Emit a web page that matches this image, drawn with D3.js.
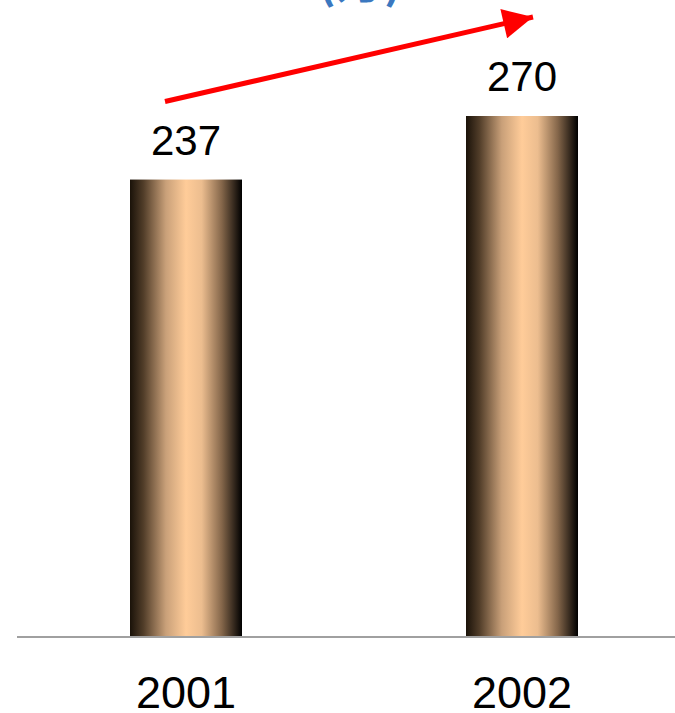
<!DOCTYPE html>
<html>
<head>
<meta charset="utf-8">
<script src="https://cdn.jsdelivr.net/npm/d3@7"></script>
<style>
  html, body { margin: 0; padding: 0; background: #fff; overflow: hidden; }
  svg { display: block; }
</style>
</head>
<body>
<svg id="chart" width="675" height="713"></svg>
<script>
const categories = ["2001", "2002"];
const values = [237, 270];
const titleText = "(万)";

const svg = d3.select("#chart");
const W = 675, H = 713;

const x = d3.scaleBand().domain(categories).range([18, 690])
  .paddingInner(2 / 3).paddingOuter(1 / 3);
const y = d3.scaleLinear().domain([0, 270]).range([636, 116]);

const defs = svg.append("defs");
const grad = defs.append("linearGradient").attr("id", "barGrad")
  .attr("x1", "0%").attr("x2", "100%").attr("y1", "0%").attr("y2", "0%");
[[0, "#1a1209"], [0.12, "#513d29"], [0.32, "#c9a079"], [0.5, "#ffcc99"], [0.64, "#ecbd8f"], [0.82, "#84664a"], [1, "#000000"]]
  .forEach(([o, c]) => grad.append("stop").attr("offset", o).attr("stop-color", c));

const marker = defs.append("marker").attr("id", "arrowHead")
  .attr("viewBox", "0 0 10 10").attr("refX", 10).attr("refY", 5)
  .attr("markerWidth", 6.4).attr("markerHeight", 6).attr("orient", "auto")
  .attr("markerUnits", "strokeWidth");
marker.append("path").attr("d", "M0,0 L10,5 L0,10 Z").attr("fill", "#ff0000");

const data = categories.map((c, i) => ({ c, v: values[i] }));

svg.selectAll("rect.bar").data(data).enter().append("rect")
  .attr("class", "bar")
  .attr("x", d => x(d.c))
  .attr("width", x.bandwidth())
  .attr("y", d => y(d.v))
  .attr("height", d => y(0) - y(d.v))
  .attr("fill", "url(#barGrad)");

// baseline
const axis = d3.axisBottom(x).tickSize(0).tickPadding(0);
const gAxis = svg.append("g").attr("transform", `translate(0,${y(0) + 1})`);
gAxis.call(axis);
gAxis.select(".domain").attr("d", `M17,0H${W}`).attr("stroke", "#a0a0a0").attr("stroke-width", 2);
gAxis.selectAll(".tick text")
  .attr("y", 71).attr("dy", 0)
  .attr("font-family", "'Liberation Sans', Arial, sans-serif")
  .attr("font-size", 45).attr("fill", "#000");

// value labels
svg.selectAll("text.val").data(data).enter().append("text")
  .attr("class", "val")
  .attr("x", d => x(d.c) + x.bandwidth() / 2)
  .attr("y", d => y(d.v) - 25)
  .attr("text-anchor", "middle")
  .attr("font-family", "'Liberation Sans', Arial, sans-serif")
  .attr("font-size", 42).attr("fill", "#000")
  .text(d => d.v);

// trend arrow
const x0 = x(categories[0]) + x.bandwidth() / 2 - 21;
const y0 = y(values[0]) - 78;
const x1 = x(categories[1]) + x.bandwidth() / 2 + 11;
const y1 = y(values[1]) - 99;
svg.append("line")
  .attr("x1", x0).attr("y1", y0).attr("x2", x1).attr("y2", y1)
  .attr("stroke", "#ff0000").attr("stroke-width", 5)
  .attr("marker-end", "url(#arrowHead)");

// cut-off title
svg.append("text")
  .attr("x", 360).attr("y", -2)
  .attr("text-anchor", "middle")
  .attr("font-family", "'Noto Sans CJK SC', sans-serif")
  .attr("font-size", 48).attr("font-weight", "bold")
  .attr("fill", "#3b78c0")
  .text(titleText);
</script>
</body>
</html>
